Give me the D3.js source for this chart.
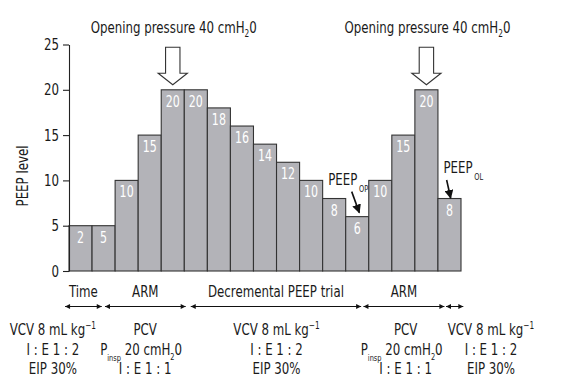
<!DOCTYPE html>
<html><head><meta charset="utf-8">
<script src="https://cdn.jsdelivr.net/npm/d3@7"></script>
<style>
body{margin:0;background:#fff;}
svg text{font-family:"Liberation Sans Narrow","DejaVu Sans Condensed","Arial Narrow",sans-serif;fill:#1a1a1a;}
</style></head>
<body><svg id="c" width="575" height="389"></svg>
<script>
// ---- data ----
const steps = d3.range(17);
const peepValues = [5,5,10,15,20,20,18,16,14,12,10,8,6,10,15,20,8];
const barLabels  = ["2","5","10","15","20","20","18","16","14","12","10","8","6","10","15","20","8"];
const yTicks = [0,5,10,15,20,25];
const openingArrowSteps = [4,15];
const openingText = "Opening pressure 40 cmH";
const phaseLabels = ["Time","ARM","Decremental PEEP trial","ARM",""];
const phaseStart  = [-0.17, 1.56, 5.28, 12.77, 16.35];
const phaseEnd    = [ 1.42, 5.06, 12.67, 16.28, 17.1];
const modeCenters = [-0.7, 3.3, 9.0, 14.6, 18.3];
const modeTypes   = ["VCV","PCV","VCV","PCV","VCV"];
const peepMarks = [{step:12, sub:"OP"},{step:16, sub:"OL"}];

// ---- layout ----
const S = 0.82; // horizontal condensation of text
const svg = d3.select("#c");
const x = d3.scaleBand().domain(steps).range([69,461]).padding(0);
const xu = d3.scaleLinear().domain([0,17]).range([69,461]);
const y = d3.scaleLinear().domain([0,25]).range([271,44.5]);

function label(px, py, size, anchor, extra){
  const g = svg.append("g").attr("transform",`translate(${px},${py}) ${extra||""} scale(${S},1)`);
  return g.append("text").attr("text-anchor",anchor||"middle").style("font-size",size+"px");
}

// bars
svg.append("g").selectAll("rect").data(steps).join("rect")
  .attr("x", i=>x(i)).attr("y", i=>y(peepValues[i]))
  .attr("width", x.bandwidth()).attr("height", i=>y(0)-y(peepValues[i]))
  .attr("fill","#b3b3b8").attr("stroke","#333").attr("stroke-width",1.1);

steps.forEach(i=>{
  label(x(i)+x.bandwidth()/2, y(peepValues[i])+17, 15).style("fill","#fff").text(barLabels[i]);
});

// y axis
const ya = svg.append("g").attr("transform","translate(69,0)")
  .call(d3.axisLeft(y).tickValues(yTicks).tickSize(6).tickPadding(4).tickSizeOuter(0));
ya.select(".domain").attr("stroke","#222").attr("stroke-width",1.1);
ya.selectAll(".tick line").attr("stroke","#222").attr("stroke-width",1.1);
ya.selectAll(".tick text").style("font-size","16px").style("fill","#1a1a1a")
  .attr("transform",`scale(${S},1)`).attr("x",-10/S)
  .style("font-family",'"Liberation Sans Narrow","DejaVu Sans Condensed",sans-serif');

label(28,176,16,"middle","rotate(-90)").text("PEEP level");

// opening pressure annotations
openingArrowSteps.forEach(s=>{
  const cx = x(s)+x.bandwidth()/2;
  const tip = y(peepValues[s])-5;
  const hs = tip-11.5, top = tip-37.5;
  const sw=7.2, hw=14.6;
  svg.append("path")
    .attr("d",`M${cx-sw},${top}L${cx+sw},${top}L${cx+sw},${hs}L${cx+hw},${hs}L${cx},${tip}L${cx-hw},${hs}L${cx-sw},${hs}Z`)
    .attr("fill","#fff").attr("stroke","#333").attr("stroke-width",1.1);
  const t = label(cx+1,33,16);
  t.append("tspan").text(openingText);
  t.append("tspan").attr("dy",4).style("font-size","10px").text("2");
  t.append("tspan").attr("dy",-4).text("0");
});

// PEEP_OP / PEEP_OL
svg.append("defs").append("marker").attr("id","ah").attr("viewBox","0 0 10 10")
  .attr("refX",9).attr("refY",5).attr("markerWidth",9).attr("markerHeight",9)
  .attr("markerUnits","userSpaceOnUse").attr("orient","auto")
  .append("path").attr("d","M0,0L10,5L0,10Z").attr("fill","#111");
peepMarks.forEach(m=>{
  const top = y(peepValues[m.step]);
  const bx = x(m.step);
  let tx, ty, ax1, ay1, ax2, ay2;
  if(m.sub==="OP"){ tx=bx-17.5; ty=top-31.5; ax1=bx+6; ay1=top-25; ax2=bx+13.6; ay2=top-4; }
  else { tx=bx+5.5; ty=top-25.5; ax1=bx+8.7; ay1=top-18.5; ax2=bx+12.7; ay2=top-0.5; }
  const t = label(tx,ty,16,"start");
  t.append("tspan").text("PEEP");
  t.append("tspan").attr("dx",2).attr("dy",7).style("font-size","9px").text(m.sub);
  svg.append("line").attr("x1",ax1).attr("y1",ay1).attr("x2",ax2).attr("y2",ay2)
    .attr("stroke","#111").attr("stroke-width",1.6).attr("marker-end","url(#ah)");
});

// phase arrows
const dm = svg.select("defs");
dm.append("marker").attr("id","pe").attr("viewBox","0 0 10 10").attr("refX",10).attr("refY",5)
  .attr("markerWidth",6).attr("markerHeight",5).attr("markerUnits","userSpaceOnUse").attr("orient","auto-start-reverse")
  .append("path").attr("d","M0,0L10,5L0,10Z").attr("fill","#111");
phaseLabels.forEach((lab,i)=>{
  const x1 = xu(phaseStart[i]), x2 = xu(phaseEnd[i]);
  svg.append("line").attr("x1",x1).attr("x2",x2).attr("y1",306.5).attr("y2",306.5)
    .attr("stroke","#111").attr("stroke-width",1)
    .attr("marker-start","url(#pe)").attr("marker-end","url(#pe)");
  if(lab) label((x1+x2)/2,296.5,16).text(lab);
});

// ventilation mode text
modeTypes.forEach((mt,i)=>{
  const cx = xu(modeCenters[i]);
  if(mt==="VCV"){
    const t1 = label(cx,335,16);
    t1.append("tspan").text("VCV 8 mL kg");
    t1.append("tspan").attr("dy",-6).style("font-size","10px").text("\u22121");
    label(cx,354.5,16).text("I : E 1 : 2");
    label(cx,374,16).text("EIP 30%");
  } else {
    label(cx,335,16).text("PCV");
    const t2 = label(cx-4,354.5,16);
    t2.append("tspan").text("P");
    t2.append("tspan").attr("dy",6).style("font-size","9px").text("insp");
    t2.append("tspan").attr("dy",-6).text(" 20 cmH");
    t2.append("tspan").attr("dy",5).style("font-size","9px").text("2");
    t2.append("tspan").attr("dy",-5).text("0");
    label(cx,374,16).text("I : E 1 : 1");
  }
});
</script></body></html>
